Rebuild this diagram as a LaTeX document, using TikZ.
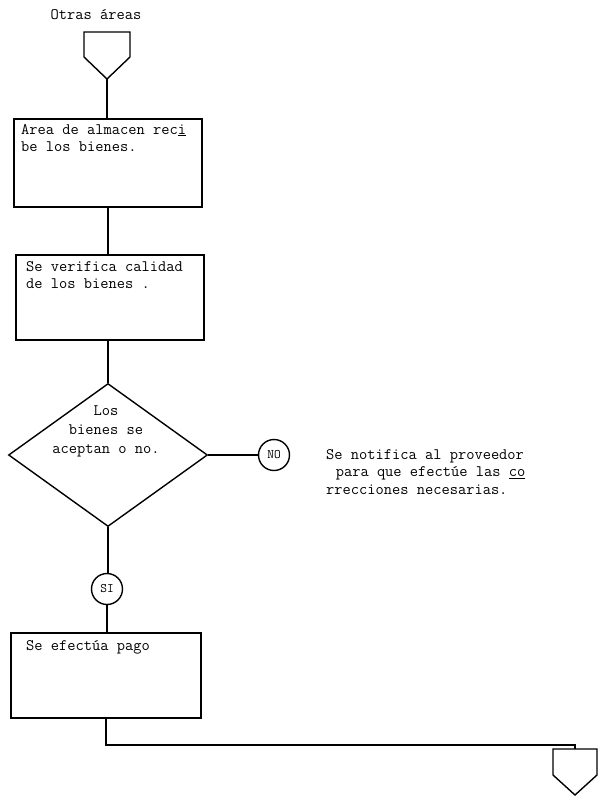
\documentclass[tikz,border=0pt]{standalone}
\usepackage{fontspec}
\usetikzlibrary{shapes.geometric}
\tikzset{
  ln/.style={line width=1.4pt},
  procbox/.style={draw, ln, rectangle, inner sep=0pt},
  decis/.style={draw, ln, diamond, inner sep=0pt},
  conn/.style={draw, ln, circle, inner sep=0pt, minimum size=31pt, font=\ttfamily\fontsize{13}{14}\selectfont},
  txt/.style={anchor=north west, align=left, inner sep=0pt, font=\ttfamily\fontsize{16}{17.5}\selectfont},
  ctxt/.style={align=center, inner sep=0pt, font=\ttfamily\fontsize{16}{19}\selectfont},
}
\begin{document}
\begin{tikzpicture}[x=1pt,y=-1pt]
\useasboundingbox (0,0) rectangle (598,796);
% top off-page connector
\node[ctxt] (otras) at (96,15) {Otras áreas};
\draw[ln, line join=miter] (84,32) -- (130,32) -- (130,57) -- (107,79) -- (84,57) -- cycle;
\coordinate (t1) at (107,79);
% boxes
\node[procbox, minimum width=188pt, minimum height=88pt] (b1) at (108,163) {};
\node[txt] (b1t) at (21,124) {Area de almacen rec\underline{i}\\be los bienes.};
\node[procbox, minimum width=188pt, minimum height=85pt] (b2) at (110,297.5) {};
\node[txt] (b2t) at (26,261) {Se verifica calidad\\de los bienes .};
% decision
\node[decis, minimum width=199pt, minimum height=143pt] (d) at (108,455) {};
\node[ctxt] (dt) at (106,431) {Los\\bienes se\\ aceptan o no.};
\node[conn] (no) at (274,455) {NO};
\node[txt] (nt) at (326,449) {Se notifica al proveedor\\\hspace*{0.6em}para que efectúe las \underline{co}\\rrecciones necesarias.};
\node[conn] (si) at (107,589) {SI};
\node[procbox, minimum width=190pt, minimum height=85pt] (b3) at (106,675.5) {};
\node[txt] (b3t) at (26,640) {Se efectúa pago};
% bottom off-page connector
\coordinate (bp) at (575,749);
\coordinate (bj) at (575,745);
\draw[ln, line join=miter] (553,749) -- (597,749) -- (597,775) -- (575,795) -- (553,775) -- cycle;
% connectors
\draw[ln] (t1) -- (t1 |- b1.north);
\draw[ln] (b1.south) -- (b1.south |- b2.north);
\draw[ln] (d.north |- b2.south) -- (d.north);
\draw[ln] (d.east) -- (no);
\draw[ln] (d.south) -- (d.south |- si.north);
\draw[ln] (si) -- (si |- b3.north);
\draw[ln] (b3.south) |- (bj) -- (bp);
\end{tikzpicture}
\end{document}
